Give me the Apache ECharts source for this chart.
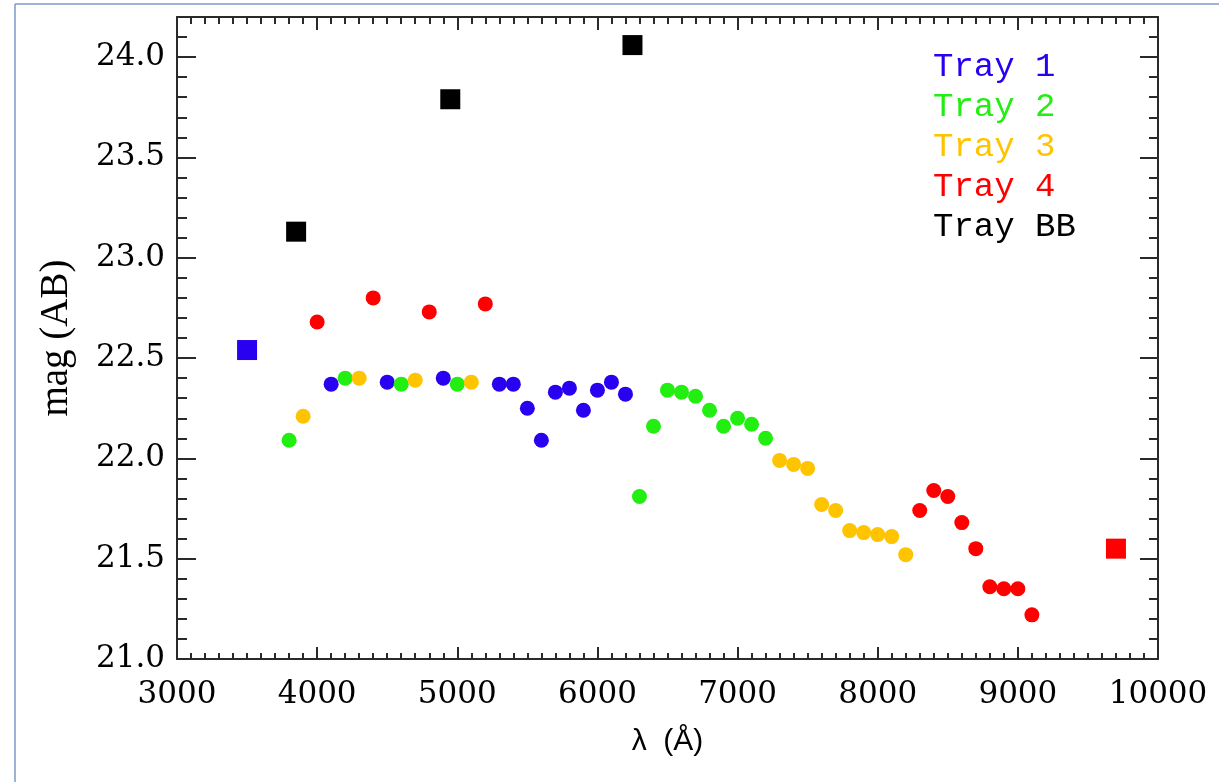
<!DOCTYPE html>
<html>
<head>
<meta charset="utf-8">
<script src="https://cdn.jsdelivr.net/npm/echarts@6/dist/echarts.min.js"></script>
<style>html,body{margin:0;padding:0;background:#fff;}#c{width:1219px;height:782px;}</style>
</head>
<body>
<div id="c"></div>
<script>
// ---- data ----
const tray1Wave = [4100, 4500, 4900, 5300, 5400, 5500, 5600, 5700, 5800, 5900, 6000, 6100, 6200];
const tray1Mag  = [22.37, 22.38, 22.40, 22.37, 22.37, 22.25, 22.09, 22.33, 22.35, 22.24, 22.34, 22.38, 22.32];
const tray1Square = [3500, 22.54];

const tray2Wave = [3800, 4200, 4600, 5000, 6300, 6400, 6500, 6600, 6700, 6800, 6900, 7000, 7100, 7200];
const tray2Mag  = [22.09, 22.40, 22.37, 22.37, 21.81, 22.16, 22.34, 22.33, 22.31, 22.24, 22.16, 22.20, 22.17, 22.10];

const tray3Wave = [3900, 4300, 4700, 5100, 7300, 7400, 7500, 7600, 7700, 7800, 7900, 8000, 8100, 8200];
const tray3Mag  = [22.21, 22.40, 22.39, 22.38, 21.99, 21.97, 21.95, 21.77, 21.74, 21.64, 21.63, 21.62, 21.61, 21.52];

const tray4Wave = [4000, 4400, 4800, 5200, 8300, 8400, 8500, 8600, 8700, 8800, 8900, 9000, 9100];
const tray4Mag  = [22.68, 22.80, 22.73, 22.77, 21.74, 21.84, 21.81, 21.68, 21.55, 21.36, 21.35, 21.35, 21.22];
const tray4Square = [9700, 21.55];

const trayBBWave = [3850, 4950, 6250];
const trayBBMag  = [23.13, 23.79, 24.06];

const seriesNames = ['Tray 1', 'Tray 2', 'Tray 3', 'Tray 4', 'Tray BB'];
const seriesColors = ['#2a00f0', '#22ee11', '#ffc400', '#ff0000', '#000000'];

const xTitle = 'λ  (Å)';
const yTitle = 'mag (AB)';
const xMin = 3000, xMax = 10000, xStep = 1000;
const yMin = 21.0, yMax = 24.2, yStep = 0.5, yMinorStep = 0.1;

// ---- build ----
function pts(w, m) { return w.map((x, i) => [x, m[i]]); }
const DOT = 15, SQ = 20;
function sq(p) { return { value: p, symbol: 'rect', symbolSize: SQ }; }

const dataSets = [
  pts(tray1Wave, tray1Mag).concat([sq(tray1Square)]),
  pts(tray2Wave, tray2Mag),
  pts(tray3Wave, tray3Mag),
  pts(tray4Wave, tray4Mag).concat([sq(tray4Square)]),
  pts(trayBBWave, trayBBMag).map(sq)
];

const axisCol = '#2a2a2a';
const labelFont = { color: '#000', fontFamily: 'DejaVu Serif', fontSize: 31 };

function yAxisCfg(pos, interval, tickLen, showLine, showLabel) {
  return {
    type: 'value', position: pos, min: yMin, max: yMax, interval: interval,
    axisLine: { show: showLine, lineStyle: { color: axisCol, width: 2 } },
    axisTick: { show: true, inside: true, length: tickLen, lineStyle: { color: axisCol, width: 2 } },
    axisLabel: showLabel ? Object.assign({
      margin: 12,
      formatter: v => (Math.abs(v / yStep - Math.round(v / yStep)) < 1e-6) ? v.toFixed(1) : ''
    }, labelFont) : { show: false },
    splitLine: { show: false }
  };
}

const option = {
  animation: false,
  backgroundColor: '#fff',
  grid: { left: 177, right: 61, top: 17, bottom: 123, containLabel: false },
  legend: {
    orient: 'vertical', left: 928, top: 47, padding: 0, itemGap: 0,
    itemWidth: 0, itemHeight: 0, icon: 'rect',
    selectedMode: false,
    textStyle: { fontFamily: 'Liberation Mono', fontSize: 34, lineHeight: 40 },
    data: seriesNames.map((n, i) => ({ name: n, textStyle: { color: seriesColors[i] } }))
  },
  xAxis: [
    {
      type: 'value', position: 'bottom', min: xMin, max: xMax, interval: xStep,
      name: xTitle, nameLocation: 'middle', nameGap: 68,
      nameTextStyle: { fontFamily: 'Liberation Sans', fontSize: 30, color: '#000' },
      axisLine: { lineStyle: { color: axisCol, width: 2 } },
      axisTick: { inside: true, length: 12, lineStyle: { color: axisCol, width: 2 } },
      minorTick: { show: true, splitNumber: 10, length: 6, lineStyle: { color: axisCol, width: 2 } },
      axisLabel: Object.assign({ margin: 20, formatter: v => String(Math.round(v)) }, labelFont),
      splitLine: { show: false }
    },
    {
      type: 'value', position: 'top', min: xMin, max: xMax, interval: xStep,
      axisLine: { lineStyle: { color: axisCol, width: 2 } },
      axisTick: { inside: true, length: 13, lineStyle: { color: axisCol, width: 2 } },
      minorTick: { show: true, splitNumber: 10, length: 7, lineStyle: { color: axisCol, width: 2 } },
      axisLabel: { show: false },
      splitLine: { show: false }
    }
  ],
  yAxis: [
    Object.assign(yAxisCfg('left', yStep, 19, true, true), {
      name: yTitle, nameLocation: 'middle', nameGap: 101,
      nameTextStyle: { fontFamily: 'Liberation Serif', fontSize: 39, color: '#000' }
    }),
    yAxisCfg('left', yMinorStep, 10, false, false),
    yAxisCfg('right', yStep, 18, true, false),
    yAxisCfg('right', yMinorStep, 9, false, false)
  ],
  graphic: [
    { type: 'line', silent: true, z: -10, shape: { x1: 15, y1: 4, x2: 1219, y2: 4 },
      style: { stroke: '#7d99c6', lineWidth: 1.5 } },
    { type: 'line', silent: true, z: -10, shape: { x1: 15, y1: 4, x2: 15, y2: 782 },
      style: { stroke: '#7d99c6', lineWidth: 1.5 } }
  ],
  series: seriesNames.map((n, i) => ({
    name: n, type: 'scatter', xAxisIndex: 0, yAxisIndex: 0,
    symbol: 'circle', symbolSize: DOT,
    itemStyle: { color: seriesColors[i], opacity: 1 },
    emphasis: { disabled: true },
    data: dataSets[i]
  }))
};

const chart = echarts.init(document.getElementById('c'), null, { renderer: 'canvas' });
chart.setOption(option);
</script>
</body>
</html>
